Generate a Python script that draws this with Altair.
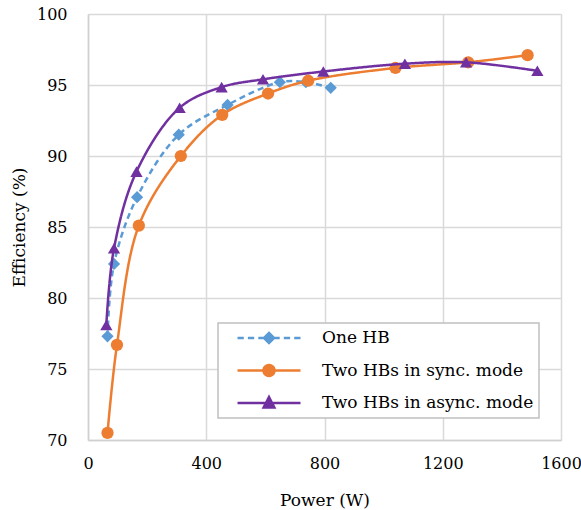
import altair as alt
import pandas as pd
import math

# ---- data ----
series_names = ["One HB", "Two HBs in sync. mode", "Two HBs in async. mode"]

one_hb_power = [66, 88, 166, 307, 472, 649, 737, 821]
one_hb_eff = [77.3, 82.4, 87.1, 91.5, 93.6, 95.2, 95.2, 94.8]

sync_power = [66, 98, 172, 314, 454, 609, 745, 1040, 1286, 1487]
sync_eff = [70.5, 76.7, 85.1, 90.0, 92.9, 94.4, 95.3, 96.2, 96.6, 97.1]

async_power = [62, 88, 164, 310, 452, 592, 796, 1072, 1279, 1520]
async_eff = [78.1, 83.5, 88.9, 93.4, 94.85, 95.4, 95.95, 96.5, 96.6, 96.0]

x_ticks = [0, 400, 800, 1200, 1600]
y_ticks = [70, 75, 80, 85, 90, 95, 100]

# ---- styles ----
colors = ["#5B9BD5", "#ED7D31", "#7030A0"]
shapes = ["diamond", "circle", "triangle-up"]
dashes = [[6, 4], [1, 0], [1, 0]]
FONT = "DejaVu Serif"


def circle_path(r, n=24):
    pts = []
    for i in range(n):
        a = 2 * math.pi * i / n
        pts.append(f"{r*math.cos(a):.4f},{r*math.sin(a):.4f}")
    return "M" + " L".join(pts) + " Z"


dash_segments = [(-1, -0.8), (-0.67, -0.47), (-0.34, -0.14), (0.14, 0.34), (0.47, 0.67), (0.8, 1)]
dash_line = " ".join(f"M{a},0 L{b},0" for a, b in dash_segments)
legend_paths = [
    dash_line + " M0,-0.16 L0.16,0 L0,0.16 L-0.16,0 Z",
    "M-1,0 L1,0 " + circle_path(0.175),
    "M-1,0 L1,0 M0,-0.19 L0.17,0.14 L-0.17,0.14 Z",
]

frames = []
for name, p, e in [
    (series_names[0], one_hb_power, one_hb_eff),
    (series_names[1], sync_power, sync_eff),
    (series_names[2], async_power, async_eff),
]:
    frames.append(pd.DataFrame({"power": p, "eff": e, "series": name}))
df = pd.concat(frames, ignore_index=True)

x_enc = alt.X(
    "power:Q",
    scale=alt.Scale(domain=[0, 1600], nice=False),
    axis=alt.Axis(
        values=x_ticks, title="Power (W)", grid=True, ticks=False, tickSize=0,
        labelPadding=15, labelFlush=False, titleY=60, titleBaseline="middle",
        format="d",
    ),
)
y_enc = alt.Y(
    "eff:Q",
    scale=alt.Scale(domain=[70, 100], nice=False),
    axis=alt.Axis(
        values=y_ticks, title="Efficiency (%)", grid=True, ticks=False, tickSize=0,
        labelPadding=21, labelFlush=False, titleX=-69, titleY=213,
        titleAngle=-90, titleAlign="center", titleBaseline="middle",
    ),
)

layers = []
for i, name in enumerate(series_names):
    sub = alt.Chart(df).transform_filter(alt.datum.series == name)
    line = sub.mark_line(
        interpolate="catmull-rom", strokeWidth=2.5, color=colors[i], strokeDash=dashes[i]
    ).encode(x=x_enc, y=y_enc, order="power:Q")
    pts = sub.mark_point(
        filled=True, shape=shapes[i], size=150, color=colors[i], opacity=1
    ).encode(x=x_enc, y=y_enc)
    layers += [line, pts]

leg = alt.Legend(
    title=None, orient="bottom-right", offset=22, padding=5,
    strokeColor="#c0c0c0", fillColor="white",
    symbolSize=3969, symbolStrokeWidth=2.5, symbolOffset=13, symbolOpacity=1,
    labelOffset=20, clipHeight=20, rowPadding=12.5,
    labelFont=FONT, labelFontSize=17, labelColor="#000000", labelLimit=400,
    labelExpr="datum.label + '\u00a0\u00a0'",
)

legend_layer = alt.Chart(df).transform_filter("false").mark_point(
    filled=True, opacity=1, strokeWidth=2.5, size=3969
).encode(
    x=x_enc, y=y_enc,
    fill=alt.Fill("series:N", scale=alt.Scale(domain=series_names, range=colors), legend=leg),
    stroke=alt.Stroke("series:N", scale=alt.Scale(domain=series_names, range=colors), legend=leg),
    shape=alt.Shape("series:N", scale=alt.Scale(domain=series_names, range=legend_paths), legend=leg),
)

chart = alt.layer(*layers, legend_layer).properties(
    width=473, height=426, autosize="none",
    padding={"left": 88, "top": 14, "right": 20, "bottom": 70},
).configure_view(stroke=None).configure_axis(
    gridColor="#d9d9d9", gridWidth=1.5, domainColor="#d0d0d0", domainWidth=1.5,
    labelFont=FONT, labelFontSize=16, labelColor="#000000",
    titleFont=FONT, titleFontSize=17, titleColor="#000000", titleFontWeight="normal",
).configure_legend(strokeWidth=1.5)

chart.save("out.html", embed_options={"renderer": "svg", "actions": False})
